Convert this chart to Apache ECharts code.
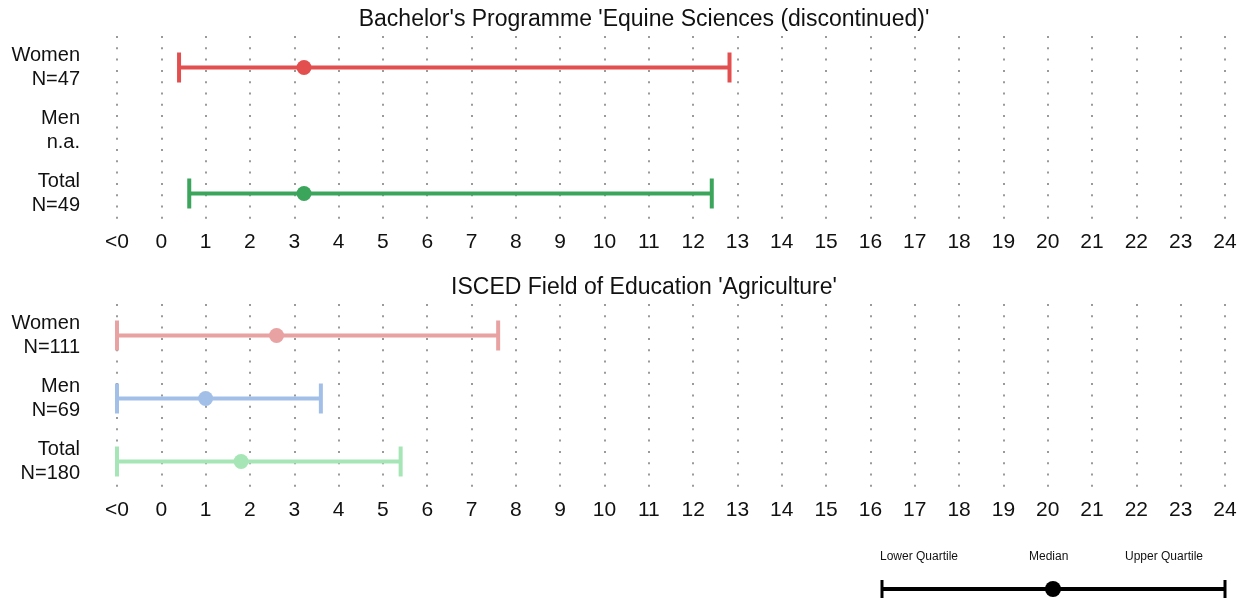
<!DOCTYPE html>
<html><head><meta charset="utf-8">
<script src="https://cdn.jsdelivr.net/npm/echarts@6/dist/echarts.min.js"></script>
<style>html,body{margin:0;padding:0;background:#fff}#c{width:1248px;height:598px}</style>
</head><body><div id="c"></div>
<script>
const tickLabels = ["<0","0","1","2","3","4","5","6","7","8","9","10","11","12","13","14","15","16","17","18","19","20","21","22","23","24"];
const topTitle = "Bachelor's Programme 'Equine Sciences (discontinued)'";
const botTitle = "ISCED Field of Education 'Agriculture'";
const topCats = ["Women\nN=47","Men\nn.a.","Total\nN=49"];
const topLower = [0.4, null, 0.63];
const topMedian = [3.22, null, 3.22];
const topUpper = [12.82, null, 12.42];
const topColors = ["#E34F4F","#6F9BD8","#3BA55C"];
const botCats = ["Women\nN=111","Men\nN=69","Total\nN=180"];
const botLower = [-1, -1, -1];
const botMedian = [2.6, 1.0, 1.8];
const botUpper = [7.6, 3.6, 5.4];
const botColors = ["#E8A2A2","#A2BFE8","#A6E6B6"];
const legendLabels = ["Lower Quartile","Median","Upper Quartile"];

const chart = echarts.init(document.getElementById('c'), null, {renderer:'canvas'});
const FONT = '"Liberation Sans", Arial, sans-serif';
const seriesColors = [topColors, botColors];

function xAxisCfg(gi){
  return {
    type:'value', gridIndex:gi, min:-1, max:24, interval:1,
    axisLine:{show:false}, axisTick:{show:false},
    axisLabel:{fontSize:21, color:'#111', fontFamily:FONT, margin:7,
      formatter:v=>tickLabels[Math.round(v)+1]},
    splitLine:{show:true, lineStyle:{color:'#9a9a9a', width:2, type:[2,9.3]}}
  };
}
function yAxisCfg(gi, cats){
  return {
    type:'category', gridIndex:gi, data:cats, inverse:true,
    axisLine:{show:false}, axisTick:{show:false}, splitLine:{show:false},
    axisLabel:{fontSize:20, color:'#111', fontFamily:FONT, margin:37, align:'right', lineHeight:24}
  };
}
function makeData(cats, lo, md, up){
  return cats.map((c,i)=> lo[i]==null ? null : [i, lo[i], md[i], up[i]]).filter(d=>d);
}
function renderItem(params, api){
  const i = api.value(0);
  const a = api.coord([api.value(1), i]);
  const m = api.coord([api.value(2), i]);
  const b = api.coord([api.value(3), i]);
  const col = seriesColors[params.seriesIndex][i];
  const capH = 15;
  const st = {stroke: col, lineWidth: 4};
  return {type:'group', children:[
    {type:'line', shape:{x1:a[0], y1:a[1], x2:b[0], y2:b[1]}, style:st},
    {type:'line', shape:{x1:a[0], y1:a[1]-capH, x2:a[0], y2:a[1]+capH}, style:st},
    {type:'line', shape:{x1:b[0], y1:b[1]-capH, x2:b[0], y2:b[1]+capH}, style:st},
    {type:'circle', shape:{cx:m[0], cy:m[1], r:7.5}, style:{fill:col}}
  ]};
}
function seriesCfg(gi, data){
  return {type:'custom', xAxisIndex:gi, yAxisIndex:gi, renderItem:renderItem,
    encode:{x:[1,2,3], y:0}, data:data, clip:false};
}

const option = {
  animation:false,
  backgroundColor:'#fff',
  title:[
    {text:topTitle, top:3, left:639, textAlign:'center', textStyle:{fontSize:23, fontWeight:'normal', color:'#111', fontFamily:FONT}},
    {text:botTitle, top:271, left:639, textAlign:'center', textStyle:{fontSize:23, fontWeight:'normal', color:'#111', fontFamily:FONT}}
  ],
  grid:[
    {left:117, right:23, top:36, height:189},
    {left:117, right:23, top:304, height:189}
  ],
  xAxis:[xAxisCfg(0), xAxisCfg(1)],
  yAxis:[yAxisCfg(0, topCats), yAxisCfg(1, botCats)],
  series:[
    seriesCfg(0, makeData(topCats, topLower, topMedian, topUpper)),
    seriesCfg(1, makeData(botCats, botLower, botMedian, botUpper))
  ],
  graphic:[
    {type:'text', left:880, top:551, style:{text:legendLabels[0], fontSize:12, fill:'#111', fontFamily:FONT}},
    {type:'text', left:1029, top:551, style:{text:legendLabels[1], fontSize:12, fill:'#111', fontFamily:FONT}},
    {type:'text', left:1125, top:551, style:{text:legendLabels[2], fontSize:12, fill:'#111', fontFamily:FONT}},
    {type:'line', shape:{x1:882, y1:589, x2:1225, y2:589}, style:{stroke:'#000', lineWidth:4}},
    {type:'line', shape:{x1:882, y1:580, x2:882, y2:600}, style:{stroke:'#000', lineWidth:3}},
    {type:'line', shape:{x1:1225, y1:580, x2:1225, y2:600}, style:{stroke:'#000', lineWidth:3}},
    {type:'circle', shape:{cx:1053, cy:589, r:8}, style:{fill:'#000'}}
  ]
};
chart.setOption(option);
</script></body></html>
